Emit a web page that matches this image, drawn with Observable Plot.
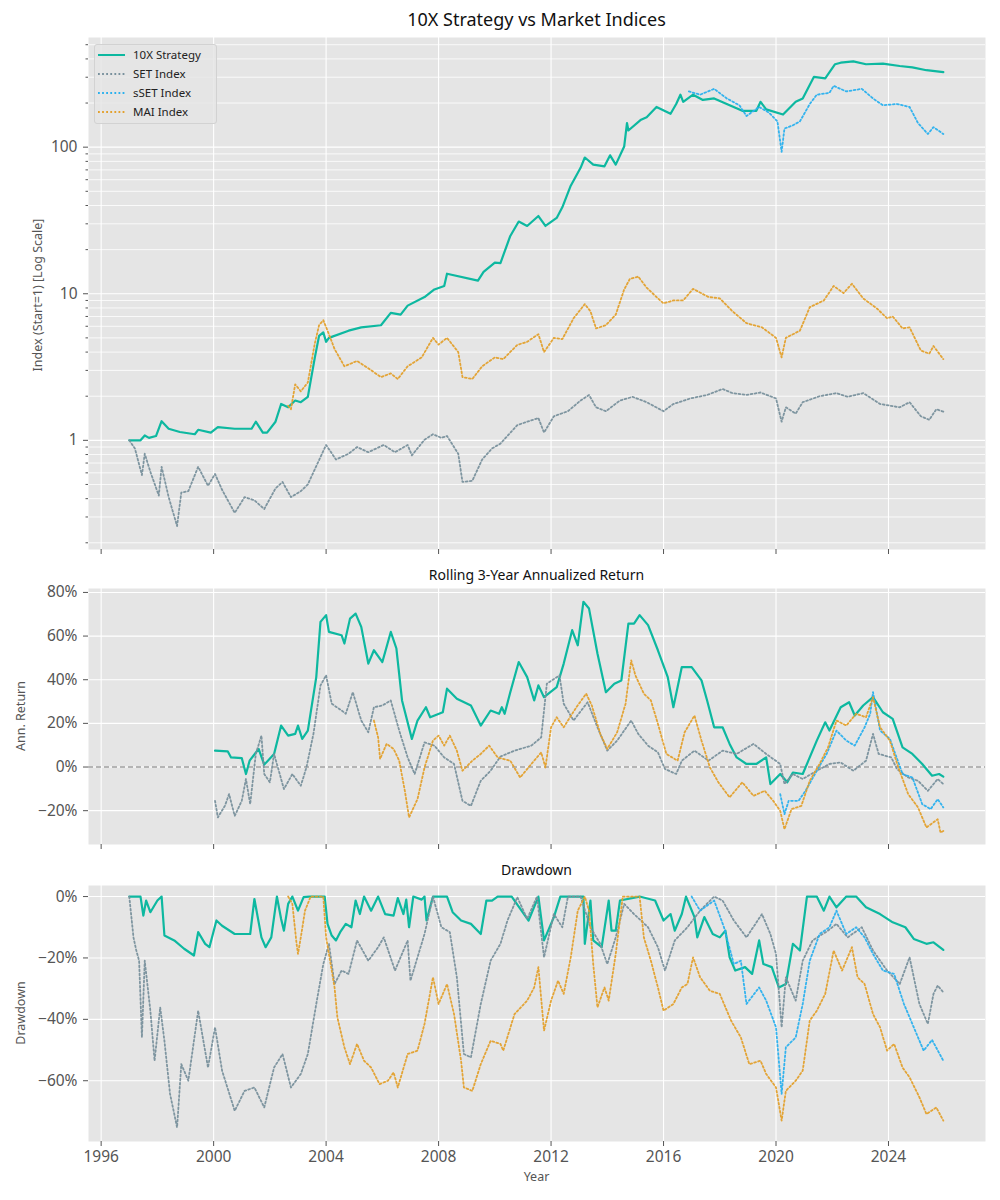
<!DOCTYPE html>
<html><head><meta charset="utf-8">
<script src="https://cdn.jsdelivr.net/npm/d3@7"></script>
<script src="https://cdn.jsdelivr.net/npm/@observablehq/plot@0.6"></script>
<style>
body{margin:0;background:#fff;font-family:"Noto Sans",Lato,sans-serif;}
#root{position:relative;width:1000px;height:1200px;overflow:hidden;}
.title{position:absolute;left:88px;width:897px;text-align:center;color:#111;white-space:nowrap;}
.ylab{position:absolute;transform:translate(-50%,-50%) rotate(-90deg);white-space:nowrap;color:#555;font-size:12.5px;}
.panel{position:absolute;left:0;top:0;}
#legend{position:absolute;left:94px;top:44px;width:121px;height:78px;border:1px solid #d2d2d2;border-radius:3px;background:rgba(229,229,229,0.85);font-size:11.5px;color:#222;}
#legend .row{position:absolute;left:0;height:16px;}
#legend svg{position:absolute;left:2px;top:3px;}
#legend span{position:absolute;left:38px;top:0;white-space:nowrap;line-height:16px;}
</style></head><body><div id="root"></div>
<script>
// ---------- DATA ----------
const seriesNames = ["10X Strategy", "SET Index", "sSET Index", "MAI Index"];
const seriesColors = ["#0DB8A0", "#78909C", "#29B0EE", "#E3A02C"];
const xTicks = [1996, 2000, 2004, 2008, 2012, 2016, 2020, 2024];
const idxMajorTicks = [1, 10, 100];
const idxMinorTicks = [0.2,0.3,0.4,0.5,0.6,0.7,0.8,0.9,2,3,4,5,6,7,8,9,20,30,40,50,60,70,80,90,200,300,400,500];
const rollTicks = [-20, 0, 20, 40, 60, 80];
const ddTicks = [-60, -40, -20, 0];

// Index (Start=1)
const idx10X = [[1997.0,1.0],[1997.4,1.0],[1997.55,1.08],[1997.7,1.04],[1997.95,1.07],[1998.15,1.35],[1998.4,1.2],[1998.8,1.14],[1999.33,1.1],[1999.45,1.18],[1999.9,1.13],[2000.15,1.23],[2000.75,1.2],[2001.35,1.2],[2001.5,1.34],[2001.75,1.13],[2001.9,1.13],[2002.2,1.34],[2002.4,1.77],[2002.65,1.68],[2002.9,1.87],[2003.1,1.82],[2003.35,1.98],[2003.6,3.68],[2003.75,5.16],[2003.9,5.45],[2004.0,4.7],[2004.1,5.0],[2004.8,5.6],[2005.25,5.9],[2005.95,6.1],[2006.3,7.4],[2006.65,7.2],[2006.9,8.3],[2007.5,9.5],[2007.85,10.7],[2008.2,11.3],[2008.3,13.7],[2009.4,12.3],[2009.6,14.1],[2010.0,16.3],[2010.2,16.2],[2010.55,24.8],[2010.85,31.1],[2011.15,29],[2011.55,33.9],[2011.8,29],[2012.2,32.9],[2012.4,38.9],[2012.7,54.6],[2013.05,72.3],[2013.2,85],[2013.5,76],[2013.9,74],[2014.1,88],[2014.3,76],[2014.6,101],[2014.7,146],[2014.75,130],[2015.2,154],[2015.4,160],[2015.75,188],[2016.25,169],[2016.45,197],[2016.6,228],[2016.7,204],[2017.05,228],[2017.4,210],[2017.8,215],[2018.35,193],[2018.8,177],[2019.3,177],[2019.45,204],[2019.65,181],[2020.25,167],[2020.7,204],[2020.95,215],[2021.35,302],[2021.75,295],[2022.1,368],[2022.3,377],[2022.75,385],[2023.2,368],[2023.8,372],[2024.4,358],[2024.85,350],[2025.35,335],[2025.95,325]];
const idxSET = [[1997.0,1.0],[1997.2,0.88],[1997.45,0.58],[1997.55,0.81],[1997.75,0.61],[1998.05,0.42],[1998.15,0.66],[1998.4,0.41],[1998.7,0.26],[1998.85,0.44],[1999.1,0.45],[1999.45,0.66],[1999.8,0.49],[2000.05,0.59],[2000.3,0.46],[2000.75,0.32],[2001.1,0.41],[2001.45,0.39],[2001.8,0.34],[2002.2,0.47],[2002.45,0.52],[2002.75,0.41],[2003.1,0.45],[2003.35,0.5],[2003.7,0.7],[2004.0,0.93],[2004.35,0.74],[2004.8,0.81],[2005.1,0.9],[2005.5,0.83],[2006.05,0.93],[2006.45,0.83],[2006.9,0.93],[2007.05,0.79],[2007.5,1.01],[2007.8,1.1],[2008.1,1.04],[2008.3,1.07],[2008.7,0.81],[2008.85,0.52],[2009.2,0.53],[2009.55,0.74],[2009.9,0.88],[2010.2,0.95],[2010.8,1.27],[2011.15,1.34],[2011.55,1.42],[2011.75,1.13],[2012.1,1.46],[2012.6,1.58],[2013.05,1.87],[2013.35,2.04],[2013.6,1.68],[2013.95,1.58],[2014.45,1.87],[2014.9,1.98],[2015.4,1.82],[2016.0,1.58],[2016.35,1.77],[2016.95,1.93],[2017.55,2.04],[2018.1,2.24],[2018.45,2.1],[2018.95,2.04],[2019.45,2.12],[2020.0,1.93],[2020.2,1.34],[2020.35,1.68],[2020.7,1.52],[2020.95,1.82],[2021.55,2.0],[2022.15,2.1],[2022.55,1.98],[2023.1,2.1],[2023.7,1.77],[2024.4,1.68],[2024.75,1.82],[2025.15,1.46],[2025.45,1.38],[2025.7,1.63],[2025.95,1.57]];
const idxSSET = [[2016.9,240],[2017.3,228],[2017.8,250],[2018.25,215],[2018.7,193],[2018.95,163],[2019.4,188],[2019.75,172],[2020.05,150],[2020.2,93],[2020.3,134],[2020.6,141],[2020.85,150],[2021.2,197],[2021.45,228],[2021.9,235],[2022.05,262],[2022.5,240],[2023.05,250],[2023.45,215],[2023.8,193],[2024.3,197],[2024.75,188],[2025.05,146],[2025.4,123],[2025.6,137],[2025.95,123]];
const idxMAI = [[2002.65,1.72],[2002.75,1.63],[2002.9,2.41],[2003.1,2.16],[2003.35,2.48],[2003.6,4.6],[2003.75,6.1],[2003.9,6.6],[2004.1,5.3],[2004.3,4.2],[2004.65,3.2],[2005.1,3.48],[2005.5,3.1],[2005.95,2.7],[2006.3,2.86],[2006.55,2.62],[2006.9,3.2],[2007.4,3.68],[2007.8,5.0],[2008.0,4.5],[2008.3,5.0],[2008.7,4.0],[2008.85,2.7],[2009.2,2.62],[2009.55,3.2],[2010.0,3.68],[2010.3,3.58],[2010.8,4.48],[2011.15,4.7],[2011.55,5.3],[2011.75,4.0],[2012.1,5.0],[2012.4,4.9],[2012.8,6.8],[2013.2,8.5],[2013.4,7.6],[2013.6,5.8],[2013.95,6.1],[2014.3,7.2],[2014.6,10.7],[2014.8,12.6],[2015.1,13.1],[2015.4,11.0],[2015.75,9.5],[2016.0,8.6],[2016.35,9.0],[2016.7,9.0],[2017.05,10.8],[2017.6,9.5],[2018.0,9.3],[2018.45,7.6],[2018.95,6.3],[2019.5,5.9],[2020.0,5.0],[2020.2,3.68],[2020.35,5.0],[2020.85,5.6],[2021.2,8.1],[2021.7,9.0],[2022.05,11.3],[2022.4,10.1],[2022.7,11.7],[2023.1,9.3],[2023.6,7.9],[2023.95,6.8],[2024.15,7.0],[2024.5,5.8],[2024.75,5.9],[2025.15,4.1],[2025.45,3.9],[2025.6,4.4],[2025.95,3.58]];

// Rolling 3-year annualized return (%)
const roll10X = [[2000.05,7.5],[2000.5,7.2],[2000.62,4.4],[2001.0,4.1],[2001.15,-3.2],[2001.28,2.9],[2001.6,8.3],[2001.8,1.1],[2002.15,6.0],[2002.4,19],[2002.65,14.4],[2002.9,15.2],[2003.0,19],[2003.15,12.9],[2003.35,16.7],[2003.65,41.2],[2003.8,66.5],[2004.0,69.6],[2004.1,61.9],[2004.55,60.4],[2004.65,56.6],[2004.85,68],[2005.05,70.3],[2005.25,64.2],[2005.5,47.4],[2005.7,53.5],[2006.0,48.1],[2006.3,61.9],[2006.5,54.3],[2006.7,30.5],[2007.05,12.9],[2007.25,21.3],[2007.55,27.4],[2007.7,22.8],[2008.15,25.1],[2008.3,35.9],[2008.65,31.3],[2009.15,28.2],[2009.5,19],[2009.85,25.9],[2010.15,24.4],[2010.25,27.4],[2010.35,24.4],[2010.55,34.3],[2010.85,48.1],[2011.15,41.2],[2011.4,30.5],[2011.55,37.4],[2011.75,32],[2012.2,36.6],[2012.45,47.4],[2012.75,62.7],[2012.95,55.8],[2013.15,75.7],[2013.35,72.6],[2013.65,52],[2013.95,34.3],[2014.25,38.2],[2014.5,39.7],[2014.75,65.7],[2014.95,65.7],[2015.15,69.6],[2015.45,65],[2015.8,53.5],[2016.15,41.2],[2016.35,27.4],[2016.65,45.8],[2017.0,45.8],[2017.35,39.7],[2017.55,30.5],[2017.8,18.2],[2018.1,18.2],[2018.35,10.6],[2018.6,4.4],[2018.95,1.4],[2019.3,1.4],[2019.65,4.4],[2019.8,-7.8],[2020.15,-3.2],[2020.4,-7.0],[2020.6,-2.5],[2020.95,-3.2],[2021.15,2.9],[2021.45,12.1],[2021.75,20.5],[2021.9,16.7],[2022.3,27.4],[2022.6,29.7],[2022.8,23.6],[2023.1,28.2],[2023.45,32],[2023.8,25.1],[2024.15,22.1],[2024.5,9.0],[2024.85,6.0],[2025.2,1.4],[2025.55,-4.0],[2025.8,-3.2],[2025.95,-4.4]];
const rollSET = [[2000.05,-15.5],[2000.15,-23.1],[2000.4,-17.8],[2000.55,-12.4],[2000.75,-22.4],[2001.0,-15.5],[2001.15,-5.5],[2001.3,-17],[2001.5,6.0],[2001.7,14.4],[2001.8,-3.2],[2002.0,-7.0],[2002.15,6.0],[2002.5,-10.1],[2002.8,-3.2],[2003.1,-8.6],[2003.3,-0.2],[2003.55,15.2],[2003.8,37.4],[2004.0,42],[2004.2,29],[2004.55,25.9],[2004.7,24.4],[2004.95,34.3],[2005.25,21.3],[2005.5,15.9],[2005.7,27.4],[2006.0,28.2],[2006.3,30.5],[2006.6,16.7],[2006.9,4.4],[2007.15,-3.2],[2007.5,11.3],[2007.85,9.8],[2008.2,4.4],[2008.55,1.4],[2008.85,-15.5],[2009.15,-17.8],[2009.5,-6.3],[2009.85,-1.7],[2010.2,4.8],[2010.7,7.5],[2011.3,9.8],[2011.65,13.6],[2011.85,38.2],[2012.3,42],[2012.45,29],[2012.8,21.3],[2013.3,29.7],[2013.65,18.2],[2014.0,7.5],[2014.35,12.1],[2014.85,21.3],[2015.1,15.2],[2015.45,9.8],[2015.8,6.7],[2016.05,-0.9],[2016.45,-3.2],[2016.65,2.9],[2017.1,7.5],[2017.6,2.9],[2018.1,7.5],[2018.6,6.0],[2019.2,10.6],[2019.65,6.0],[2020.15,1.4],[2020.3,-7.8],[2020.6,-3.2],[2020.95,-5.5],[2021.45,-1.7],[2021.9,1.4],[2022.3,2.1],[2022.75,-1.7],[2023.2,2.9],[2023.45,15.2],[2023.65,6.0],[2024.1,4.4],[2024.3,-0.9],[2024.7,-4.8],[2025.05,-6.3],[2025.4,-10.9],[2025.75,-5.5],[2025.95,-7.8]];
const rollSSET = [[2020.15,-12.4],[2020.3,-21.6],[2020.45,-15.5],[2020.8,-15.5],[2021.05,-10.9],[2021.45,-1.7],[2021.8,6.0],[2022.15,16.7],[2022.5,12.1],[2022.8,9.8],[2023.15,18.2],[2023.35,24.4],[2023.45,34.3],[2023.7,16.7],[2024.05,12.9],[2024.5,-3.2],[2024.85,-4.8],[2025.2,-17],[2025.5,-19.3],[2025.75,-14.7],[2025.95,-18.5]];
const rollMAI = [[2005.7,21.3],[2005.85,13.6],[2005.92,3.7],[2006.15,10.6],[2006.4,8.3],[2006.6,2.9],[2006.8,-10.9],[2006.95,-23.1],[2007.25,-14.7],[2007.5,-0.2],[2007.8,12.1],[2008.0,14.4],[2008.2,9.8],[2008.4,14.4],[2008.65,7.5],[2008.85,-1.7],[2009.2,2.9],[2009.5,6.0],[2009.8,9.8],[2010.1,4.4],[2010.55,2.9],[2010.9,-4.8],[2011.3,1.4],[2011.65,6.7],[2011.8,-0.2],[2012.0,18.2],[2012.2,22.8],[2012.45,18.2],[2012.9,27.4],[2013.25,33.6],[2013.45,28.2],[2013.75,15.2],[2014.0,8.3],[2014.35,15.9],[2014.65,29],[2014.85,48.9],[2015.0,42],[2015.3,33.6],[2015.55,30.5],[2015.8,19.8],[2016.1,6.0],[2016.5,2.9],[2016.75,15.9],[2017.1,23.6],[2017.35,12.1],[2017.65,-0.2],[2017.95,-7.0],[2018.35,-13.9],[2018.8,-7.0],[2019.2,-13.2],[2019.6,-10.9],[2019.9,-15.5],[2020.15,-20.1],[2020.3,-28.5],[2020.55,-19.3],[2020.9,-17.8],[2021.2,-6.3],[2021.55,1.4],[2021.85,9.0],[2022.15,21.3],[2022.5,19],[2022.85,24.4],[2023.2,22.8],[2023.45,32],[2023.7,18.2],[2024.05,12.1],[2024.35,-0.2],[2024.7,-12.4],[2025.05,-18.5],[2025.35,-27.7],[2025.75,-23.9],[2025.85,-30],[2025.95,-29.3]];

// Drawdown (%)
const dd10X = [[1997.0,0],[1997.4,0],[1997.5,-6.2],[1997.6,-1.3],[1997.75,-5.1],[1998.0,-1.3],[1998.15,0],[1998.25,-12.7],[1998.6,-14.3],[1998.95,-17],[1999.3,-19.2],[1999.45,-11.6],[1999.7,-15.4],[1999.85,-16.5],[2000.1,-7.8],[2000.3,-9.5],[2000.75,-12.2],[2001.3,-12.2],[2001.45,-0.8],[2001.7,-13.3],[2001.85,-16.5],[2002.05,-13.3],[2002.25,0],[2002.4,-7.3],[2002.5,-11.1],[2002.65,-2.4],[2002.8,0],[2003.0,-4.6],[2003.2,-0.2],[2003.4,0],[2003.65,0],[2003.95,0],[2004.05,-8.9],[2004.2,-12.7],[2004.35,-14.3],[2004.5,-11.6],[2004.7,-8.9],[2004.9,-10],[2005.05,-1.3],[2005.2,-5.7],[2005.35,0],[2005.6,-4.6],[2005.85,0],[2006.1,-5.7],[2006.4,-6.2],[2006.55,-0.5],[2006.75,-5.7],[2006.85,-1.0],[2006.95,-10],[2007.1,0],[2007.4,-1.0],[2007.5,0],[2007.57,-7.8],[2007.8,0],[2008.3,0],[2008.5,-5.1],[2008.8,-7.8],[2009.15,-8.9],[2009.5,-12.2],[2009.7,-1.3],[2009.9,-1.3],[2010.1,0],[2010.6,0],[2010.95,-4.6],[2011.2,-7.8],[2011.55,0],[2011.75,-14.3],[2012.1,-6.7],[2012.33,0],[2013.15,0],[2013.2,-15.4],[2013.4,-1.3],[2013.5,-14.3],[2013.8,-16.5],[2014.05,-1.3],[2014.15,-11.1],[2014.3,-11.1],[2014.45,-1.3],[2015.15,0],[2015.7,-1.3],[2016.0,-7.8],[2016.25,-5.7],[2016.4,-11.1],[2016.65,-5.7],[2016.8,0],[2017.1,-6.7],[2017.2,-13.3],[2017.45,-6.7],[2017.75,-12.2],[2018.0,-13.3],[2018.2,-11.1],[2018.35,-19.8],[2018.55,-24.1],[2018.9,-23],[2019.15,-25.2],[2019.4,-14.3],[2019.55,-22],[2019.85,-23],[2020.1,-29.6],[2020.35,-28.5],[2020.6,-15.4],[2020.85,-17.6],[2021.1,0],[2021.45,0],[2021.7,-4.6],[2021.9,0],[2022.15,-3.5],[2022.5,0],[2022.85,0],[2023.2,-3.5],[2023.7,-5.7],[2024.15,-8.4],[2024.6,-10],[2024.9,-13.8],[2025.35,-15.4],[2025.6,-14.9],[2025.95,-17.4]];
const ddSET = [[1997.0,0],[1997.15,-13.3],[1997.25,-17.6],[1997.35,-20.9],[1997.45,-45.9],[1997.55,-20.9],[1997.75,-37.2],[1997.9,-53.5],[1998.1,-36.1],[1998.25,-47],[1998.45,-64.3],[1998.7,-75.2],[1998.85,-54.6],[1999.1,-60],[1999.45,-37.2],[1999.8,-55.7],[2000.05,-42.6],[2000.3,-56.7],[2000.75,-69.8],[2001.1,-63.3],[2001.45,-62.2],[2001.8,-68.7],[2002.15,-55.7],[2002.45,-51.3],[2002.75,-62.2],[2003.1,-57.8],[2003.35,-51.3],[2003.65,-35],[2003.9,-22],[2004.1,-15.4],[2004.3,-28.5],[2004.55,-24.1],[2004.8,-25.2],[2005.1,-14.3],[2005.5,-20.9],[2005.85,-16.5],[2006.05,-13.3],[2006.45,-24.1],[2006.9,-14.3],[2007.0,-27.4],[2007.5,-12.2],[2007.8,0],[2008.1,-10],[2008.4,-11.6],[2008.65,-26.3],[2008.9,-51.3],[2009.15,-52.4],[2009.5,-35],[2009.85,-20.9],[2010.2,-15.4],[2010.45,-7.8],[2010.8,-0.2],[2011.15,-7.3],[2011.5,0],[2011.75,-19.8],[2012.1,-5.7],[2012.4,-10],[2012.6,0],[2013.05,0],[2013.4,-10],[2013.75,-15.4],[2014.0,-22],[2014.3,-13.3],[2014.6,-2.4],[2014.95,-5.7],[2015.45,-10],[2015.8,-16.5],[2016.05,-24.1],[2016.4,-14.3],[2016.85,-10],[2017.3,-4.6],[2017.8,0],[2018.1,-1.3],[2018.5,-7.8],[2018.95,-13.3],[2019.5,-5.7],[2019.8,-12.2],[2020.0,-18.7],[2020.2,-42.6],[2020.35,-26.3],[2020.7,-33.9],[2020.95,-20.9],[2021.3,-14.3],[2021.85,-11.1],[2022.15,-8.9],[2022.55,-13.3],[2023.05,-10],[2023.45,-17.6],[2023.95,-24.1],[2024.4,-28.5],[2024.75,-19.8],[2025.1,-35],[2025.4,-41.5],[2025.6,-31.7],[2025.75,-29],[2025.95,-31.2]];
const ddSSET = [[2017.0,0],[2017.3,-4.6],[2017.8,-1.3],[2018.15,-10],[2018.5,-22],[2018.75,-20.9],[2018.95,-35],[2019.4,-29.6],[2019.65,-33.9],[2020.0,-42.6],[2020.2,-64.3],[2020.35,-49.1],[2020.7,-45.9],[2020.95,-35],[2021.2,-20.9],[2021.55,-12.2],[2021.9,-10],[2022.15,-4.6],[2022.5,-12.2],[2022.85,-10],[2023.15,-13.3],[2023.45,-18.7],[2023.8,-24.1],[2024.2,-25.2],[2024.55,-35],[2024.95,-43.7],[2025.25,-50.2],[2025.55,-46.7],[2025.95,-53.5]];
const ddMAI = [[2002.65,0],[2002.8,-2.4],[2002.95,-15.4],[2003.0,-18.7],[2003.1,-13.3],[2003.25,-4.6],[2003.45,0],[2003.7,0],[2003.9,0],[2004.0,-13.3],[2004.2,-24.1],[2004.3,-29.6],[2004.4,-39.3],[2004.65,-49.1],[2004.85,-54.6],[2005.1,-48],[2005.35,-53.5],[2005.6,-55.7],[2005.9,-61.1],[2006.2,-60],[2006.4,-57.3],[2006.55,-62.2],[2006.9,-51.3],[2007.25,-50.2],[2007.5,-41.5],[2007.8,-26.3],[2008.0,-35],[2008.3,-28.5],[2008.55,-38.3],[2008.8,-53.5],[2008.9,-62.2],[2009.2,-63.3],[2009.5,-54.6],[2009.85,-47],[2010.2,-48],[2010.3,-50.2],[2010.7,-38.3],[2011.15,-33.9],[2011.4,-29.6],[2011.55,-23],[2011.75,-43.7],[2012.0,-33.9],[2012.25,-27.4],[2012.45,-31.7],[2012.7,-19.8],[2012.95,-4.6],[2013.2,0],[2013.35,-4.6],[2013.5,-22],[2013.65,-36.1],[2013.9,-29.6],[2014.05,-33.9],[2014.3,-18.7],[2014.55,0],[2014.95,0],[2015.15,0],[2015.3,-13.3],[2015.55,-20.9],[2015.8,-29.6],[2016.0,-37.2],[2016.35,-35],[2016.65,-29.6],[2016.85,-28.5],[2017.05,-19.8],[2017.3,-26.3],[2017.65,-30.7],[2018.0,-31.7],[2018.4,-40.4],[2018.75,-45.9],[2019.05,-54.6],[2019.45,-53.5],[2019.65,-57.8],[2020.0,-62.2],[2020.2,-73],[2020.35,-63.3],[2020.7,-60],[2020.95,-56.7],[2021.2,-40.4],[2021.45,-37.2],[2021.75,-31.7],[2022.05,-17.6],[2022.35,-24.1],[2022.7,-16.5],[2022.9,-26.3],[2023.15,-28.5],[2023.45,-38.3],[2023.7,-42.6],[2023.95,-50.2],[2024.2,-48],[2024.5,-55.7],[2024.75,-58.9],[2025.1,-65.4],[2025.35,-70.9],[2025.7,-68.7],[2025.95,-73]];

// ---------- DRAWING ----------
const root = document.getElementById("root");
const W = 1000, ML = 88, MR = 15;
const xDomain = [1995.55, 2027.45];
const FONT = "'Noto Sans', Lato, sans-serif";
const DOT = "1.8,2.3";

function lineMarks(sets) {
  const marks = [];
  sets.forEach((data, i) => {
    if (!data) return;
    marks.push(Plot.line(data, {
      x: d => d[0], y: d => d[1],
      stroke: seriesColors[i],
      strokeWidth: i === 0 ? 2.2 : 1.8,
      strokeDasharray: i === 0 ? null : DOT,
      strokeOpacity: i === 0 ? 1 : 0.95,
      strokeLinejoin: "round"
    }));
  });
  return marks;
}

function pctFmt(d) { return (d < 0 ? "\u2212" : "") + Math.abs(d) + "%"; }

function panel({top, height, mt, mb, y, yMajor, yMinor, yFmt, extra, sets, xLabels}) {
  const p = Plot.plot({
    width: W, height, marginLeft: ML, marginRight: MR, marginTop: mt, marginBottom: mb,
    style: {fontFamily: FONT, fontSize: "15.5px", background: "transparent", overflow: "visible"},
    x: {domain: xDomain, type: "linear"},
    y,
    marks: [
      Plot.frame({fill: "#E5E5E5", stroke: null}),
      yMinor ? Plot.ruleY(yMinor, {stroke: "#fff", strokeWidth: 0.8}) : null,
      Plot.ruleY(yMajor, {stroke: "#fff", strokeWidth: 1.1}),
      Plot.ruleX(xTicks, {stroke: "#fff", strokeWidth: 1.1}),
      ...(extra || []),
      Plot.axisX(xTicks, {tickSize: 5, tickPadding: 4, color: "#555", label: null,
        tickFormat: xLabels ? (d => String(d)) : (() => "")}),
      Plot.axisY(yMajor, {tickSize: 5, tickPadding: 6, color: "#555", label: null, tickFormat: yFmt}),
      yMinor ? Plot.axisY(yMinor, {tickSize: 2.5, color: "#555", label: null, tickFormat: () => ""}) : null,
      ...lineMarks(sets)
    ]
  });
  p.classList.add("panel");
  p.style.top = top + "px";
  root.appendChild(p);
}

function addText(cls, txt, css) {
  const d = document.createElement("div");
  d.className = cls; d.textContent = txt;
  Object.assign(d.style, css);
  root.appendChild(d);
}

// Panel 1: index, log scale
panel({
  top: 30, height: 530, mt: 7, mb: 11,
  y: {type: "log", domain: [0.18, 560]},
  yMajor: idxMajorTicks, yMinor: idxMinorTicks, yFmt: d => String(d),
  sets: [idx10X, idxSET, idxSSET, idxMAI], xLabels: false
});
// Panel 2: rolling return
panel({
  top: 580, height: 275, mt: 8, mb: 11,
  y: {domain: [-35.5, 81.8]},
  yMajor: rollTicks, yFmt: pctFmt,
  extra: [Plot.ruleY([0], {stroke: "#777", strokeWidth: 1.2, strokeDasharray: "5,3"})],
  sets: [roll10X, rollSET, rollSSET, rollMAI], xLabels: false
});
// Panel 3: drawdown
panel({
  top: 875, height: 300, mt: 10, mb: 34,
  y: {domain: [-79.8, 3.6]},
  yMajor: ddTicks, yFmt: pctFmt,
  sets: [dd10X, ddSET, ddSSET, ddMAI], xLabels: true
});

// Titles and labels
addText("title", "10X Strategy vs Market Indices", {top: "7px", fontSize: "18px"});
addText("title", "Rolling 3-Year Annualized Return", {top: "565px", fontSize: "14px"});
addText("title", "Drawdown", {top: "860px", fontSize: "14px"});
addText("ylab", "Index (Start=1) [Log Scale]", {left: "37px", top: "295px"});
addText("ylab", "Ann. Return", {left: "20px", top: "716px"});
addText("ylab", "Drawdown", {left: "20px", top: "1013px"});
addText("title", "Year", {top: "1168px", fontSize: "12.5px", color: "#555"});

// Legend
const leg = document.createElement("div");
leg.id = "legend";
seriesNames.forEach((name, i) => {
  const row = document.createElement("div");
  row.className = "row";
  row.style.top = (2 + i * 19) + "px";
  row.style.width = "118px";
  const dash = i === 0 ? "" : ` stroke-dasharray="${DOT}"`;
  row.innerHTML = `<svg width="30" height="10"><line x1="1" y1="5" x2="28" y2="5" stroke="${seriesColors[i]}" stroke-width="${i===0?2:1.8}"${dash}/></svg><span>${name}</span>`;
  leg.appendChild(row);
});
root.appendChild(leg);
</script>
</body></html>
